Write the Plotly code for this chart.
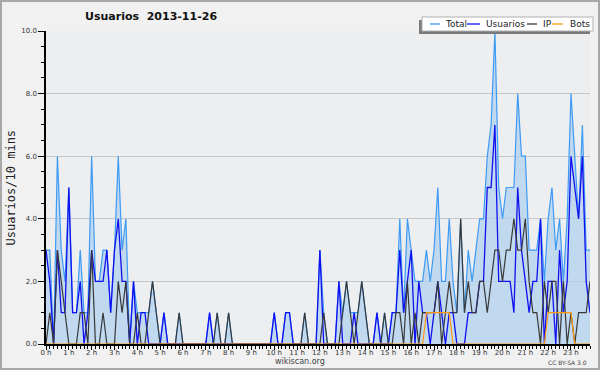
import plotly.graph_objects as go

# ---- data (10-minute slots, 6 per hour, 0 h .. 23 h 50) ----
hours = [f"{h} h" for h in range(24)]
total = [3,3,0,6,3,2, 5,1,1,3,1,1, 6,2,2,3,3,1, 3,6,3,4,0,2,
         1,1,1,1,2,1, 0,1,0,0,0,1, 0,0,0,0,0,0, 0,1,0,1,0,0,
         1,0,0,0,0,0, 0,0,0,0,0,0, 1,0,0,1,1,0, 0,0,1,0,0,0,
         3,1,0,0,0,2, 1,2,1,1,1,2, 1,0,0,1,0,1, 0,1,1,4,1,4,
         3,2,2,2,3,2, 3,5,2,2,4,2, 1,4,1,3,2,3, 4,4,6,7,10,5,
         4,5,5,5,8,6, 6,3,3,3,4,2, 4,5,3,4,2,4, 8,6,4,7,3,3]
usuarios = [3,2,0,3,1,1, 5,1,1,2,0,1, 3,2,2,2,3,1, 3,4,2,2,0,2,
            0,1,1,0,0,0, 0,1,0,0,0,0, 0,0,0,0,0,0, 0,1,0,0,0,0,
            0,0,0,0,0,0, 0,0,0,0,0,0, 1,0,0,1,1,0, 0,0,0,0,0,0,
            3,0,0,0,0,2, 0,0,0,1,0,0, 0,0,0,1,0,0, 0,1,1,3,1,2,
            3,0,2,1,1,0, 1,2,1,0,1,1, 0,0,0,1,1,1, 2,2,5,5,7,2,
            2,2,2,1,5,3, 2,1,2,2,4,0, 2,2,0,3,1,2, 6,5,4,6,2,1]
ip = [0,1,0,3,2,1, 0,0,0,1,1,0, 3,0,0,1,0,0, 0,2,1,2,0,0,
      1,0,0,1,2,1, 0,0,0,0,0,1, 0,0,0,0,0,0, 0,0,0,1,0,0,
      1,0,0,0,0,0, 0,0,0,0,0,0, 0,0,0,0,0,0, 0,0,1,0,0,0,
      0,1,0,0,0,0, 1,2,1,0,1,2, 1,0,0,0,0,1, 0,0,1,1,0,2,
      0,1,0,1,1,1, 1,2,0,1,2,1, 1,4,1,2,1,1, 2,2,1,2,3,3,
      2,3,3,4,3,3, 4,2,1,1,0,2, 1,2,2,0,2,0, 1,0,1,1,1,2]
bots = [0]*96 + [0,0,0,0,1,1, 1,1,1,1,1,0] + [0]*24 + [1,1,1,1,1,1, 1,0,0,0,0,0]
slots = list(range(len(total)))

C_TOTAL = "#3d9bf5"
C_FILL = "rgba(178,210,238,0.75)"
C_USER = "#1010f0"
C_IP = "#383838"
C_BOTS = "#ff9a10"

L, R, T, B = 46, 10, 31, 26
W, H = 600, 370
PW, PH = W - L - R, H - T - B
def px(x): return (x - L) / PW
def py(y): return (H - B - y) / PH

fig = go.Figure()
fig.add_trace(go.Scatter(x=slots, y=total, mode="lines", name="Total",
                         line=dict(color=C_TOTAL, width=1.2),
                         fill="tozeroy", fillcolor=C_FILL))
fig.add_trace(go.Scatter(x=slots, y=usuarios, mode="lines", name="Usuarios",
                         line=dict(color=C_USER, width=1.3)))
fig.add_trace(go.Scatter(x=slots, y=ip, mode="lines", name="IP",
                         line=dict(color=C_IP, width=1.2)))
fig.add_trace(go.Scatter(x=slots, y=bots, mode="lines", name="Bots",
                         line=dict(color=C_BOTS, width=1.2)))

font = "DejaVu Sans"
fig.update_layout(
    width=W, height=H, showlegend=False,
    margin=dict(l=L, r=R, t=T, b=B, pad=0),
    paper_bgcolor="#f1f1f1", plot_bgcolor="#edeef0",
    font=dict(family=font, size=7, color="#333"),
    xaxis=dict(range=[0, 143], tickmode="array",
               tickvals=[h * 6 for h in range(24)], ticktext=hours,
               ticks="outside", ticklen=4, tickcolor="black", tickwidth=1,
               minor=dict(tick0=0, dtick=1, ticks="outside", ticklen=3,
                          tickcolor="black", tickwidth=1, showgrid=False),
               showline=True, linecolor="black", linewidth=2,
               showgrid=False, zeroline=False, automargin=False,
               ticklabelstandoff=-3,
               tickfont=dict(family=font, size=7, color="#333")),
    yaxis=dict(range=[0, 10], tick0=0, dtick=2, tickformat=".1f",
               ticks="outside", ticklen=6, tickcolor="black", tickwidth=1,
               minor=dict(tick0=0, dtick=0.5, ticks="outside", ticklen=3,
                          tickcolor="black", tickwidth=1, showgrid=False),
               showline=True, linecolor="black", linewidth=1.5,
               showgrid=True, gridcolor="#c6c7c9", gridwidth=1,
               zeroline=False, automargin=False,
               tickfont=dict(family=font, size=7, color="#333")),
)

shapes = [
    # outer frame
    dict(type="rect", xref="paper", yref="paper",
         x0=px(1), x1=px(599), y0=py(369), y1=py(1),
         line=dict(color="#a8a8a8", width=2), fillcolor="rgba(0,0,0,0)", layer="below"),
    # legend shadow and box
    dict(type="rect", xref="paper", yref="paper",
         x0=px(419), x1=px(590), y0=py(34), y1=py(20),
         line=dict(width=0), fillcolor="#7a7a7a", layer="above"),
    dict(type="rect", xref="paper", yref="paper",
         x0=px(422), x1=px(593), y0=py(31), y1=py(17),
         line=dict(color="#b0b0b0", width=1), fillcolor="white", layer="above"),
]
legend_items = [("Total", C_TOTAL, 430, 440, 443),
                ("Usuarios", C_USER, 467, 480, 484),
                ("IP", C_IP, 527, 537, 541),
                ("Bots", C_BOTS, 552, 563, 568)]
annotations = []
for name, col, x0, x1, tx in legend_items:
    shapes.append(dict(type="line", xref="paper", yref="paper",
                       x0=px(x0), x1=px(x1), y0=py(24), y1=py(24),
                       line=dict(color=col, width=1.3), layer="above"))
    annotations.append(dict(text=name, xref="paper", yref="paper",
                            x=px(tx), y=py(24), xanchor="left", yanchor="middle",
                            showarrow=False, font=dict(family=font, size=9, color="#222")))

annotations += [
    dict(text="<b>Usuarios\u00a0 2013-11-26</b>", xref="paper", yref="paper",
         x=px(151), y=py(16.5), xanchor="center", yanchor="middle", showarrow=False,
         font=dict(family=font, size=11, color="#111")),
    dict(text="Usuarios/10 mins", xref="paper", yref="paper",
         x=px(10), y=py(187.5), xanchor="center", yanchor="middle", showarrow=False,
         textangle=-90, font=dict(family="DejaVu Sans Mono", size=12, color="#222")),
    dict(text="wikiscan.org", xref="paper", yref="paper",
         x=px(300), y=py(361.5), xanchor="center", yanchor="middle", showarrow=False,
         font=dict(family=font, size=8, color="#444")),
    dict(text="CC BY-SA 3.0", xref="paper", yref="paper",
         x=px(589), y=py(362), xanchor="right", yanchor="middle", showarrow=False,
         font=dict(family=font, size=6, color="#444")),
]
fig.update_layout(shapes=shapes, annotations=annotations)
fig.write_html("out.html", config={"displayModeBar": False},
               post_script="document.body.style.margin='0';document.body.style.padding='0';")
